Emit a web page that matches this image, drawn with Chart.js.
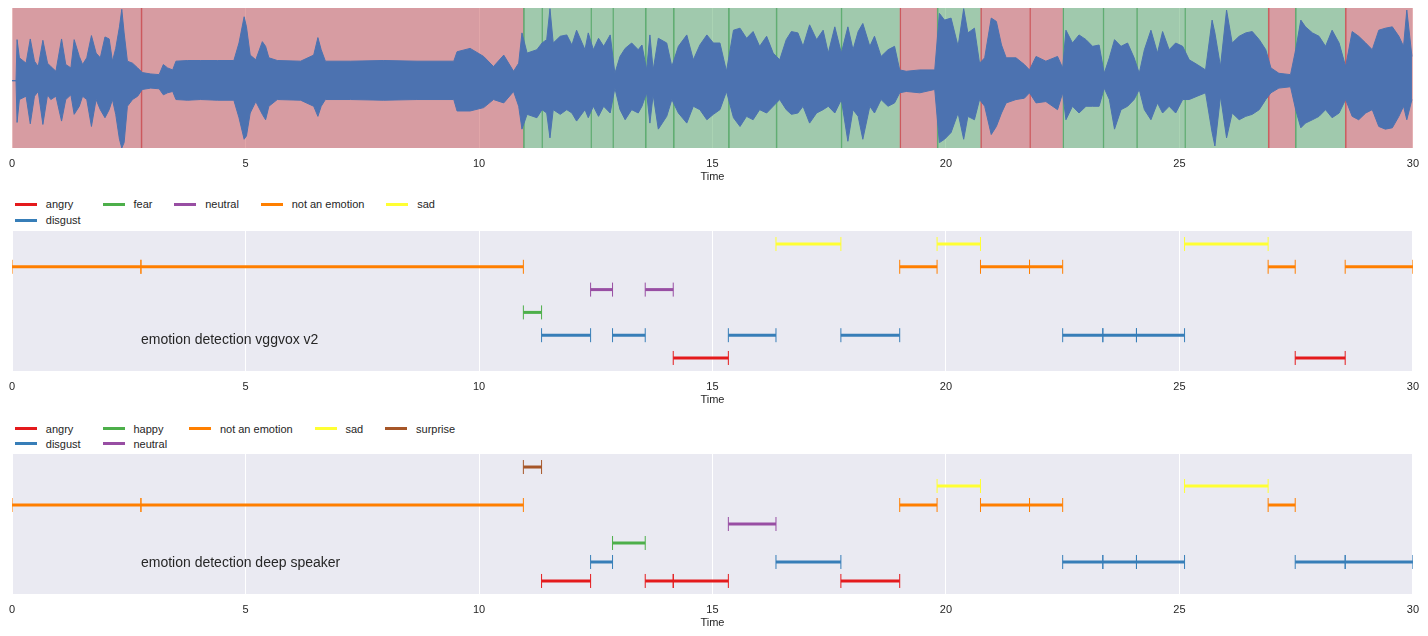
<!DOCTYPE html>
<html><head><meta charset="utf-8">
<script src="https://cdn.jsdelivr.net/npm/chart.js@4.4.1/dist/chart.umd.min.js"></script>
<style>
body{margin:0;background:#fff;width:1428px;height:636px;overflow:hidden;position:relative;font-family:'Liberation Sans',Arial,sans-serif;}
canvas{position:absolute;left:0;}
.legend{position:absolute;left:15px;display:flex;color:#262626;font-size:11px;}
.col{display:flex;flex-direction:column;margin-right:22px;}
.item{display:flex;align-items:center;white-space:nowrap;}
.handle{width:22px;height:3px;margin-right:8.8px;}
</style></head>
<body>
<canvas id="c1" width="1428" height="190" style="top:0px"></canvas>
<div id="lg2" class="legend" style="top:196px"></div>
<canvas id="c2" width="1428" height="190" style="top:223px"></canvas>
<div id="lg3" class="legend" style="top:421px"></div>
<canvas id="c3" width="1428" height="190" style="top:446px"></canvas>
<script>
// ---------- data ----------
const xTicks = [0, 5, 10, 15, 20, 25, 30];

const waveT = [
 0, 0.085, 0.107, 0.157, 0.30, 0.39, 0.48, 0.56, 0.66, 0.76,
 0.83, 0.94, 1.06, 1.15, 1.26, 1.33, 1.44, 1.51, 1.60, 1.70,
 1.80, 1.89, 1.99, 2.08, 2.15, 2.22, 2.30, 2.35, 2.40, 2.47,
 2.58, 2.69, 2.79, 2.97, 3.15, 3.24, 3.33, 3.44, 3.51, 3.76,
 4.04, 4.40, 4.75, 4.86, 4.97, 5.02, 5.10, 5.22, 5.36, 5.43,
 5.50, 5.68, 6.18, 6.46, 6.55, 6.62, 6.71, 7.25, 7.96, 8.67,
 9.46, 9.53, 9.81, 10.10, 10.31, 10.53, 10.74, 10.85, 10.92, 11.03,
 11.24, 11.35, 11.45, 11.52, 11.59, 11.74, 11.88, 11.99, 12.09, 12.27,
 12.34, 12.45, 12.56, 12.67, 12.81, 12.91, 13.02, 13.13, 13.27, 13.41,
 13.49, 13.59, 13.66, 13.73, 13.84, 14.02, 14.13, 14.27, 14.45, 14.59,
 14.73, 14.88, 15.02, 15.16, 15.30, 15.45, 15.59, 15.73, 15.87, 16.01,
 16.16, 16.30, 16.44, 16.58, 16.69, 16.83, 16.94, 17.08, 17.23, 17.37,
 17.48, 17.62, 17.76, 17.90, 18.01, 18.12, 18.22, 18.37, 18.47, 18.61,
 18.76, 18.90, 19.01, 19.15, 19.44, 19.76, 19.86, 19.97, 20.11, 20.26,
 20.38, 20.47, 20.61, 20.72, 20.83, 20.97, 21.08, 21.19, 21.29, 21.50,
 21.68, 21.79, 21.93, 22.14, 22.39, 22.50, 22.57, 22.71, 22.85, 23.00,
 23.14, 23.28, 23.39, 23.50, 23.61, 23.75, 23.89, 24.03, 24.14, 24.25,
 24.39, 24.53, 24.64, 24.78, 24.92, 25.07, 25.21, 25.38, 25.56, 25.70,
 25.76, 25.88, 26.01, 26.13, 26.28, 26.42, 26.56, 26.71, 26.85, 26.96,
 27.13, 27.38, 27.49, 27.60, 27.70, 27.85, 27.99, 28.13, 28.27, 28.42,
 28.56, 28.70, 28.84, 28.99, 29.13, 29.27, 29.41, 29.56, 29.70, 29.80,
 29.87, 29.98
];
const waveHi = [
 0, 0, 0.61, 0.34, 0.26, 0.62, 0.29, 0.21, 0.60, 0.26,
 0.21, 0.14, 0.62, 0.24, 0.19, 0.61, 0.36, 0.24, 0.34, 0.67,
 0.41, 0.34, 0.65, 0.62, 0.29, 0.48, 0.80, 1.06, 0.71, 0.29,
 0.26, 0.19, 0.12, 0.10, 0.09, 0.24, 0.19, 0.16, 0.29, 0.30,
 0.30, 0.30, 0.30, 0.56, 0.95, 0.80, 0.38, 0.31, 0.58, 0.51,
 0.34, 0.30, 0.29, 0.38, 0.64, 0.46, 0.29, 0.29, 0.30, 0.29,
 0.29, 0.43, 0.48, 0.36, 0.21, 0.38, 0.14, 0.26, 0.71, 0.41,
 0.46, 0.56, 0.61, 1.07, 0.56, 0.66, 0.68, 0.53, 0.75, 0.46,
 0.71, 0.46, 0.63, 0.51, 0.68, 0.11, 0.36, 0.48, 0.56, 0.46,
 0.53, 0.16, 0.68, 0.16, 0.63, 0.56, 0.21, 0.51, 0.68, 0.31,
 0.53, 0.68, 0.56, 0.56, 0.14, 0.75, 0.78, 0.63, 0.73, 0.51,
 0.66, 0.41, 0.31, 0.61, 0.73, 0.71, 0.51, 0.83, 0.61, 0.75,
 0.41, 0.80, 0.41, 0.80, 0.46, 0.73, 0.85, 0.51, 0.66, 0.36,
 0.46, 0.51, 0.16, 0.14, 0.16, 0.16, 1.00, 0.90, 0.93, 0.51,
 1.07, 0.71, 0.78, 0.26, 0.34, 0.93, 0.88, 0.53, 0.34, 0.34,
 0.24, 0.16, 0.36, 0.29, 0.36, 0.19, 0.75, 0.56, 0.68, 0.61,
 0.51, 0.53, 0.11, 0.34, 0.61, 0.51, 0.56, 0.34, 0.11, 0.46,
 0.75, 0.41, 0.73, 0.46, 0.56, 0.51, 0.31, 0.24, 0.16, 0.90,
 0.71, 0.21, 1.05, 0.56, 0.66, 0.71, 0.73, 0.61, 0.46, 0.19,
 0.11, 0.09, 0.46, 0.90, 0.80, 0.71, 0.66, 0.51, 0.75, 0.56,
 0.21, 0.73, 0.66, 0.56, 0.46, 0.75, 0.78, 0.80, 0.66, 0.51,
 1.05, 0.36
];
const waveLo = [
 0, 0, -0.62, -0.28, -0.23, -0.64, -0.23, -0.16, -0.65, -0.21,
 -0.28, -0.23, -0.60, -0.28, -0.21, -0.50, -0.38, -0.23, -0.28, -0.68,
 -0.28, -0.43, -0.55, -0.43, -0.28, -0.50, -0.87, -1.00, -0.92, -0.38,
 -0.28, -0.23, -0.13, -0.11, -0.12, -0.21, -0.18, -0.16, -0.28, -0.29,
 -0.28, -0.29, -0.29, -0.55, -0.87, -0.82, -0.48, -0.31, -0.50, -0.58,
 -0.38, -0.28, -0.29, -0.38, -0.53, -0.38, -0.28, -0.28, -0.29, -0.28,
 -0.28, -0.45, -0.45, -0.40, -0.28, -0.33, -0.16, -0.38, -0.72, -0.50,
 -0.55, -0.43, -0.48, -0.85, -0.43, -0.50, -0.43, -0.48, -0.60, -0.43,
 -0.55, -0.38, -0.53, -0.38, -0.48, -0.11, -0.43, -0.58, -0.43, -0.48,
 -0.38, -0.18, -0.63, -0.21, -0.72, -0.53, -0.28, -0.48, -0.63, -0.38,
 -0.43, -0.58, -0.50, -0.43, -0.16, -0.55, -0.68, -0.53, -0.58, -0.43,
 -0.48, -0.38, -0.28, -0.43, -0.50, -0.48, -0.38, -0.63, -0.48, -0.43,
 -0.38, -0.48, -0.28, -0.90, -0.43, -0.53, -0.87, -0.38, -0.48, -0.28,
 -0.38, -0.33, -0.18, -0.16, -0.18, -0.13, -0.92, -0.87, -0.77, -0.48,
 -0.87, -0.53, -0.58, -0.28, -0.38, -0.80, -0.68, -0.48, -0.33, -0.28,
 -0.26, -0.18, -0.33, -0.31, -0.43, -0.18, -0.58, -0.38, -0.48, -0.38,
 -0.38, -0.38, -0.11, -0.28, -0.72, -0.43, -0.38, -0.28, -0.13, -0.43,
 -0.58, -0.33, -0.48, -0.38, -0.48, -0.28, -0.28, -0.23, -0.18, -0.77,
 -0.97, -0.23, -0.85, -0.48, -0.58, -0.53, -0.50, -0.43, -0.28, -0.18,
 -0.11, -0.09, -0.43, -0.70, -0.63, -0.58, -0.53, -0.43, -0.55, -0.48,
 -0.28, -0.53, -0.58, -0.48, -0.43, -0.68, -0.72, -0.70, -0.53, -0.38,
 -0.58, -0.28
];

const vggLabels = ['angry', 'disgust', 'fear', 'neutral', 'not an emotion', 'sad'];
const vggStart = [0, 2.76, 10.95, 11.34, 12.39, 12.86, 13.56, 14.16, 15.34, 16.36, 17.75, 19.01, 19.81, 20.74, 21.79, 22.50, 23.36, 24.08, 25.11, 26.90, 27.48, 28.55];
const vggEnd   = [2.76, 10.95, 11.34, 12.39, 12.86, 13.56, 14.16, 15.34, 16.36, 17.75, 19.01, 19.81, 20.74, 21.79, 22.50, 23.36, 24.08, 25.11, 26.90, 27.48, 28.55, 30];
const vggSeg   = ['not an emotion', 'not an emotion', 'fear', 'disgust', 'neutral', 'disgust', 'neutral', 'angry', 'disgust', 'sad', 'disgust', 'not an emotion', 'sad', 'not an emotion', 'not an emotion', 'disgust', 'disgust', 'disgust', 'sad', 'not an emotion', 'angry', 'not an emotion'];

const dsLabels = ['angry', 'disgust', 'happy', 'neutral', 'not an emotion', 'sad', 'surprise'];
const dsStart = [0, 2.76, 10.95, 11.34, 12.39, 12.86, 13.56, 14.16, 15.34, 16.36, 17.75, 19.01, 19.81, 20.74, 21.79, 22.50, 23.36, 24.08, 25.11, 26.90, 27.48, 28.55];
const dsEnd   = [2.76, 10.95, 11.34, 12.39, 12.86, 13.56, 14.16, 15.34, 16.36, 17.75, 19.01, 19.81, 20.74, 21.79, 22.50, 23.36, 24.08, 25.11, 26.90, 27.48, 28.55, 30];
const dsSeg   = ['not an emotion', 'not an emotion', 'surprise', 'angry', 'disgust', 'happy', 'angry', 'angry', 'neutral', 'disgust', 'angry', 'not an emotion', 'sad', 'not an emotion', 'not an emotion', 'disgust', 'disgust', 'disgust', 'sad', 'not an emotion', 'disgust', 'disgust'];

const labelColors = {
  'angry': '#e41a1c', 'disgust': '#377eb8', 'fear': '#4daf4a', 'happy': '#4daf4a',
  'neutral': '#984ea3', 'not an emotion': '#ff7f00', 'sad': '#ffff33', 'surprise': '#a65628'
};
const titles = ['emotion detection vggvox v2', 'emotion detection deep speaker'];

// ---------- styling ----------
const FONT = "'Liberation Sans', Arial, sans-serif";
const TXT = '#262626';
const BG = '#eaeaf2';

function xScale() {
  return {
    type: 'linear', min: 0, max: 30, offset: false,
    afterBuildTicks: s => { s.ticks = xTicks.map(v => ({value: v})); },
    ticks: {color: TXT, font: {family: FONT, size: 11}, padding: 9, maxRotation: 0},
    grid: {color: '#ffffff', lineWidth: 1, drawTicks: false, offset: false},
    border: {display: false},
    title: {display: true, text: 'Time', color: TXT, font: {family: FONT, size: 11}, padding: {top: 0, bottom: 6.4}},
    afterFit: s => { s.height = 42; }
  };
}
const bgPlugin = {
  id: 'bg',
  beforeDraw(chart) {
    const a = chart.chartArea, ctx = chart.ctx;
    ctx.save(); ctx.fillStyle = BG; ctx.fillRect(a.left, a.top, a.width, a.height); ctx.restore();
  }
};
const baseOpts = {
  responsive: false, animation: false, events: [],
  layout: {padding: {left: 11, right: 13, top: 8, bottom: 0}},
  plugins: {legend: {display: false}, tooltip: {enabled: false}}
};

// ---------- panel 1: waveform + emotion spans ----------
const spanSets = vggStart.map((s, i) => {
  const no = vggSeg[i] === 'not an emotion';
  return {
    type: 'bar', indexAxis: 'y', xAxisID: 'x', yAxisID: 'ys', grouped: false,
    data: [[s, vggEnd[i]]],
    backgroundColor: no ? 'rgba(196,78,82,0.5)' : 'rgba(85,168,104,0.5)',
    borderColor: no ? 'rgba(205,70,75,0.85)' : 'rgba(85,168,104,0.9)',
    borderWidth: {left: s > 0 ? 1 : 0, right: 0, top: 0, bottom: 0}, borderSkipped: false,
    barPercentage: 1, categoryPercentage: 1, order: 10
  };
});
const hiPts = waveT.map((t, i) => ({x: t, y: waveHi[i]}));
const loPts = waveT.map((t, i) => ({x: t, y: waveLo[i]}));
new Chart(document.getElementById('c1'), {
  type: 'bar',
  data: {labels: ['span'], datasets: [
    ...spanSets,
    {type: 'line', xAxisID: 'x', yAxisID: 'y', data: hiPts, borderColor: '#4c72b0', backgroundColor: '#4c72b0',
     borderWidth: 1, pointRadius: 0, tension: 0, fill: '+1', order: 0},
    {type: 'line', xAxisID: 'x', yAxisID: 'y', data: loPts, borderColor: '#4c72b0', backgroundColor: '#4c72b0',
     borderWidth: 1, pointRadius: 0, tension: 0, fill: false, order: 1}
  ]},
  options: Object.assign({}, baseOpts, {
    scales: {
      x: xScale(),
      y: {type: 'linear', display: false, min: -1.0, max: 1.08},
      ys: {type: 'category', labels: ['span'], display: false, offset: true}
    }
  }),
  plugins: [bgPlugin]
});

// ---------- panels 2 and 3: segment timelines ----------
function segChart(id, labels, starts, ends, segs, title) {
  const n = labels.length, m = 0.093;
  const R = (n - 1) / (1 - 2 * m);
  const datasets = starts.map((s, i) => {
    const c = labelColors[segs[i]];
    const row = labels.indexOf(segs[i]);
    return {
      data: [{x: s, y: row}, {x: ends[i], y: row}],
      borderColor: c, backgroundColor: c, borderWidth: 3, borderCapStyle: 'butt',
      pointStyle: 'line', pointRadius: 7, pointRotation: 90, pointBorderWidth: 1,
      pointBorderColor: c, pointBackgroundColor: c, tension: 0, fill: false
    };
  });
  const textPlugin = {
    id: 'txt',
    afterDatasetsDraw(chart) {
      const a = chart.chartArea, ctx = chart.ctx;
      ctx.save();
      ctx.font = '14px ' + FONT; ctx.fillStyle = TXT; ctx.textBaseline = 'middle'; ctx.textAlign = 'left';
      ctx.fillText(title, a.left + 0.092 * a.width, a.bottom - 0.217 * a.height);
      ctx.restore();
    }
  };
  new Chart(document.getElementById(id), {
    type: 'line',
    data: {datasets},
    options: Object.assign({}, baseOpts, {
      scales: {
        x: xScale(),
        y: {type: 'linear', display: false, min: -m * R, max: n - 1 + m * R, grid: {display: false}}
      }
    }),
    plugins: [bgPlugin, textPlugin]
  });
}
segChart('c2', vggLabels, vggStart, vggEnd, vggSeg, titles[0]);
segChart('c3', dsLabels, dsStart, dsEnd, dsSeg, titles[1]);

// ---------- legends (matplotlib column-major, ncol=5) ----------
function buildLegend(el, labels, ncol, rowH) {
  const n = labels.length, nrows = Math.ceil(n / ncol);
  const nlarge = n % ncol === 0 ? ncol : n % ncol;
  let k = 0;
  for (let c = 0; c < ncol && k < n; c++) {
    const cnt = c < nlarge ? nrows : nrows - 1;
    const col = document.createElement('div'); col.className = 'col';
    for (let r = 0; r < cnt && k < n; r++, k++) {
      const it = document.createElement('div'); it.className = 'item'; it.style.height = rowH + 'px';
      const h = document.createElement('span'); h.className = 'handle'; h.style.background = labelColors[labels[k]];
      const t = document.createElement('span'); t.textContent = labels[k];
      it.appendChild(h); it.appendChild(t); col.appendChild(it);
    }
    el.appendChild(col);
  }
}
buildLegend(document.getElementById('lg2'), vggLabels, 5, 16);
buildLegend(document.getElementById('lg3'), dsLabels, 5, 15);
</script>
</body></html>
